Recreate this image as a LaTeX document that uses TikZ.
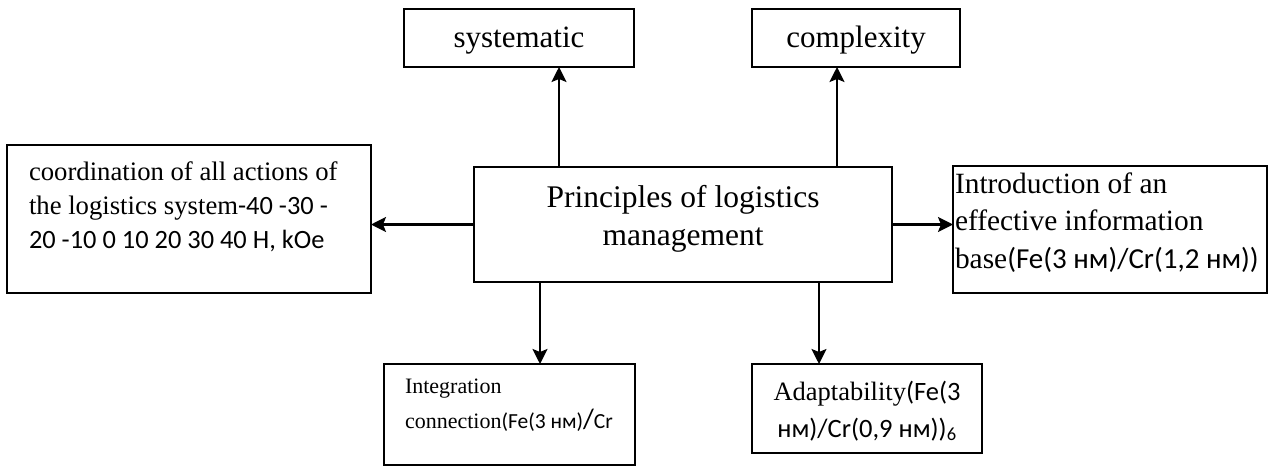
\documentclass[tikz,border=0pt]{standalone}
\usepackage{fontspec}
\setmainfont{Liberation Serif}
\newfontfamily\calf{Carlito}
\usetikzlibrary{arrows.meta}
\begin{document}
\begin{tikzpicture}[x=1pt,y=-1pt,
  box/.style={draw,line width=2.2pt,inner sep=0pt,outer sep=0pt},
  arr/.style={line width=2.2pt,-{Stealth[length=15pt,width=15pt,inset=3pt]}},
  txt/.style={inner sep=0pt,outer sep=0pt}]
\useasboundingbox (0,0) rectangle (1268,466);
% boxes
\node[box,minimum width=230pt,minimum height=58pt] (sys) at (519,38) {};
\node[box,minimum width=208pt,minimum height=58pt] (cpx) at (856,38) {};
\node[box,minimum width=418pt,minimum height=115pt] (ctr) at (683,224.5) {};
\node[box,minimum width=364pt,minimum height=148pt] (lft) at (189,219) {};
\node[box,minimum width=314pt,minimum height=127pt] (rgt) at (1110,229.5) {};
\node[box,minimum width=251pt,minimum height=101pt] (bl) at (509.5,414.5) {};
\node[box,minimum width=230pt,minimum height=89pt] (br) at (867,408.5) {};
% texts (anchor base = baseline of the last line)
\node[txt,anchor=base,font=\fontsize{31}{37}\selectfont] (tsys) at (519,47) {systematic};
\node[txt,anchor=base,font=\fontsize{31}{37}\selectfont] (tcpx) at (856,47) {complexity};
\node[txt,anchor=base,align=center,font=\fontsize{31.5}{38}\selectfont] (tctr) at (683,245) {Principles of logistics\\management};
\node[txt,anchor=base west,align=left,font=\fontsize{26.7}{34}\selectfont] (tlft) at (29,248)
  {coordination of all actions of\\the logistics system{\calf\fontsize{26.4}{34}\selectfont-40 -30 -}\\{\calf\fontsize{26.4}{34}\selectfont 20 -10 0 10 20 30 40 H, kOe}};
\node[txt,anchor=base west,align=left,font=\fontsize{29.4}{37.5}\selectfont] (trgt) at (955,268)
  {Introduction of an\\effective information\\base{\calf\fontsize{29}{37.5}\selectfont(Fe(3 нм)/Cr(1,2 нм))}};
\node[txt,anchor=base west,align=left,font=\fontsize{22}{35}\selectfont] (tbl) at (405,428)
  {Integration\\connection{\calf\fontsize{21.5}{35}\selectfont(Fe(3 нм){\fontsize{28}{35}\selectfont/}Cr}};
\node[txt,anchor=base,align=center,font=\fontsize{26.5}{37}\selectfont] (tbr) at (867,437)
  {Adaptability{\calf(Fe(3}\\{\calf нм)/Cr(0,9 нм))\textsubscript{6}}};
% connectors
\coordinate (a1) at (559,0);
\coordinate (a2) at (837,0);
\coordinate (a3) at (540,0);
\coordinate (a4) at (819,0);
\draw[arr] (ctr.north -| a1) -- (sys.south -| a1);
\draw[arr] (ctr.north -| a2) -- (cpx.south -| a2);
\draw[arr] (ctr.west) -- (lft.east |- ctr.west);
\draw[arr] (ctr.east) -- (rgt.west |- ctr.east);
\draw[arr] (ctr.south -| a3) -- (bl.north -| a3);
\draw[arr] (ctr.south -| a4) -- (br.north -| a4);
\end{tikzpicture}
\end{document}
